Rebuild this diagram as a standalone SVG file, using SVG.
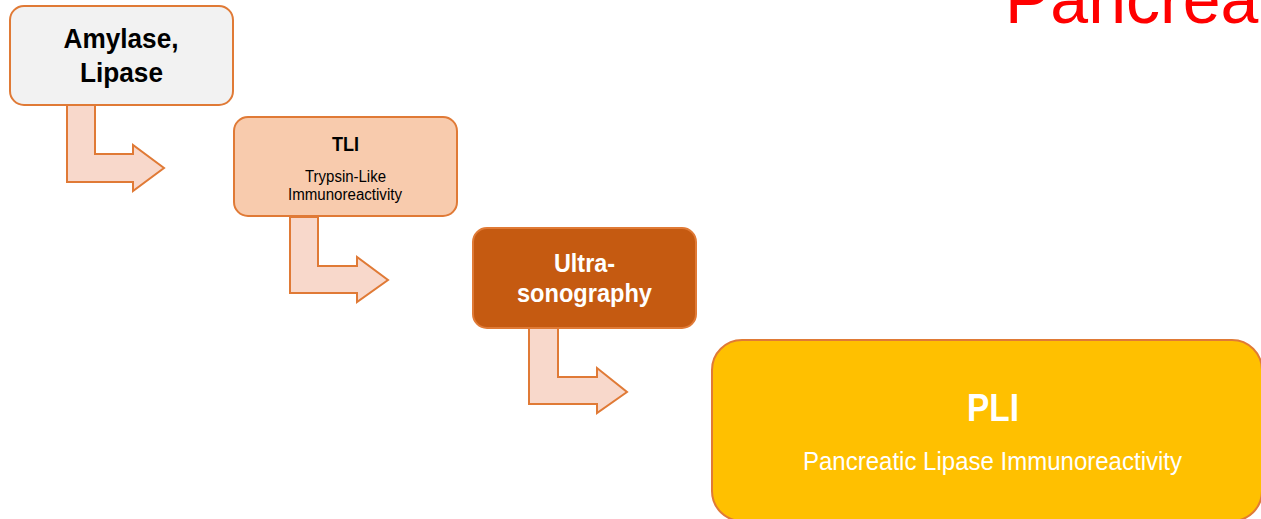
<svg xmlns="http://www.w3.org/2000/svg" width="1261" height="519" viewBox="0 0 1261 519">
<style>
.box{stroke:#e07a36;stroke-width:2}
.arr{fill:#f8d8cb;stroke:#e07a36;stroke-width:2;stroke-linejoin:miter}
.t{font-family:"Liberation Sans",Arial,sans-serif;text-anchor:middle}
.b{font-weight:bold}
</style>
<rect width="1261" height="519" fill="#ffffff"/>
<text x="1005" y="23" font-family="Liberation Sans, Arial, sans-serif" font-size="68" fill="#ff0000">Pancrea</text>
<g id="connectors">
<path class="arr" d="M67,105 L95,105 L95,154 L133,154 L133,145 L164,168 L133,191 L133,182 L67,182 Z"/>
<path class="arr" d="M290,217 L318,217 L318,266 L357,266 L357,257 L388,280 L357,302 L357,293 L290,293 Z"/>
<path class="arr" d="M529,328 L558,328 L558,377 L597,377 L597,368 L627,392 L597,413 L597,404 L529,404 Z"/>
</g>
<g id="amylase">
<rect class="box" x="10" y="6" width="223" height="99" rx="14" fill="#f2f2f2"/>
<text class="t b" x="121" y="48" font-size="27" fill="#000" textLength="115" lengthAdjust="spacingAndGlyphs">Amylase,</text>
<text class="t b" x="121.5" y="82" font-size="27" fill="#000" textLength="83" lengthAdjust="spacingAndGlyphs">Lipase</text>
</g>
<g id="tli">
<rect class="box" x="234" y="117" width="223" height="99" rx="14" fill="#f8cbad"/>
<text class="t b" x="345.5" y="151" font-size="21" fill="#000" textLength="27" lengthAdjust="spacingAndGlyphs">TLI</text>
<text class="t" x="345.5" y="182" font-size="16" fill="#000" textLength="81" lengthAdjust="spacingAndGlyphs">Trypsin-Like</text>
<text class="t" x="345" y="200" font-size="16" fill="#000" textLength="114" lengthAdjust="spacingAndGlyphs">Immunoreactivity</text>
</g>
<g id="ultrasonography">
<rect class="box" x="473" y="228" width="223" height="100" rx="14" fill="#c55a11"/>
<text class="t b" x="584.5" y="272" font-size="26" fill="#ffffff" textLength="61" lengthAdjust="spacingAndGlyphs">Ultra-</text>
<text class="t b" x="584.5" y="302" font-size="26" fill="#ffffff" textLength="135" lengthAdjust="spacingAndGlyphs">sonography</text>
</g>
<g id="pli">
<rect class="box" x="712" y="340" width="550" height="181" rx="30" fill="#ffc000" stroke-width="2.5"/>
<text class="t b" x="993" y="421" font-size="38" fill="#ffffff" textLength="52" lengthAdjust="spacingAndGlyphs">PLI</text>
<text class="t" x="992.5" y="470" font-size="26" fill="#ffffff" textLength="379" lengthAdjust="spacingAndGlyphs">Pancreatic Lipase Immunoreactivity</text>
</g>
</svg>
